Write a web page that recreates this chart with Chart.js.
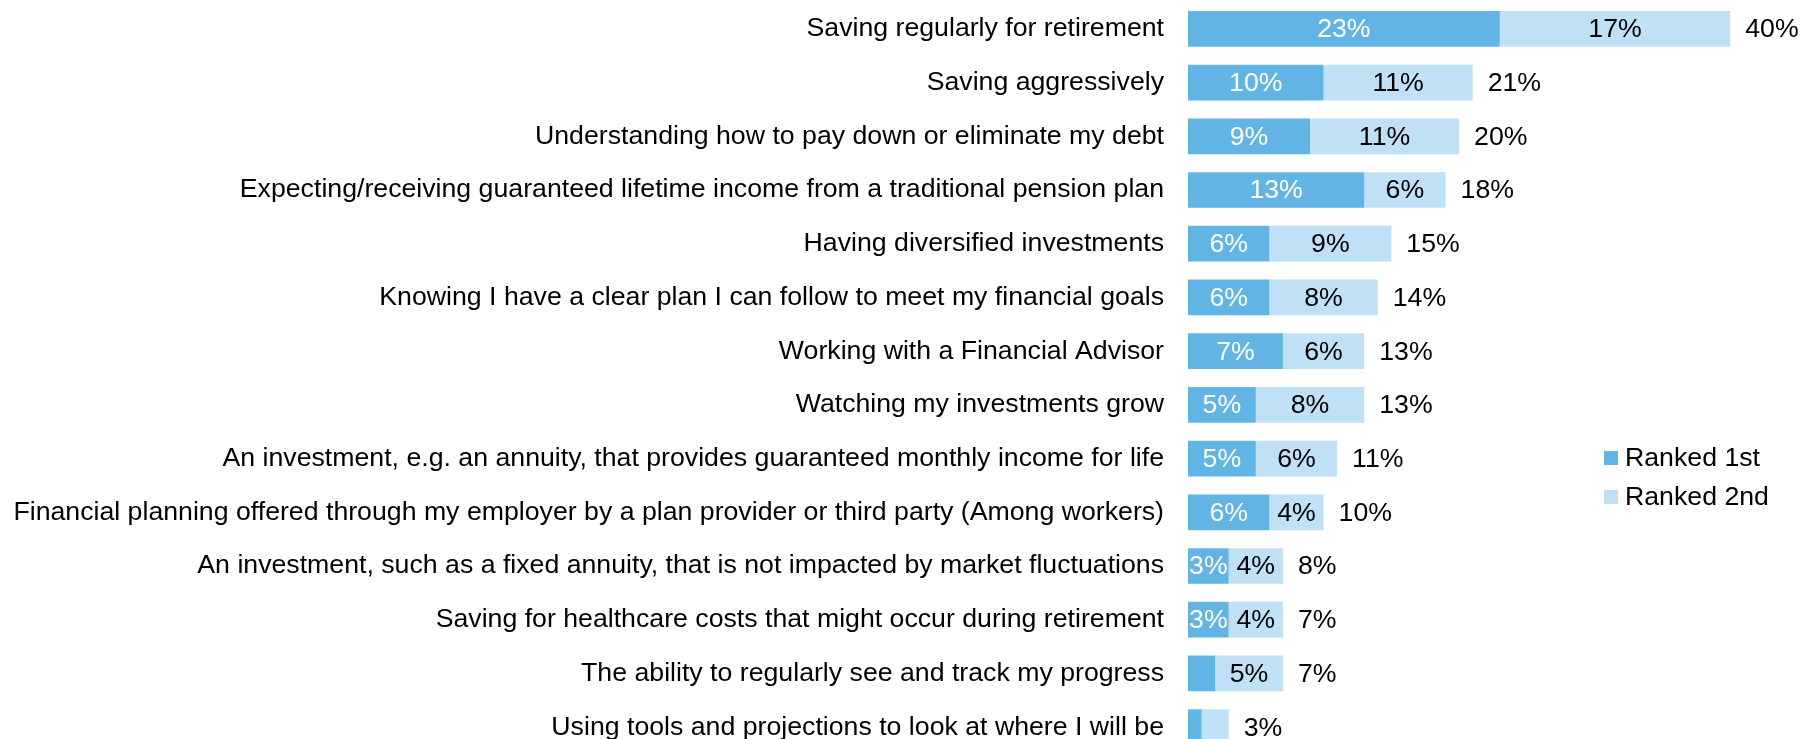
<!DOCTYPE html>
<html>
<head>
<meta charset="utf-8">
<script src="https://cdn.jsdelivr.net/npm/chart.js@4.4.1/dist/chart.umd.min.js"></script>
<style>
html, body { margin: 0; padding: 0; overflow: hidden; background: #ffffff; }
canvas { display: block; }
</style>
</head>
<body>
<canvas id="c" width="1801" height="754" style="width:1801px;height:754px"></canvas>
<script>
const categories = [
  "Saving regularly for retirement",
  "Saving aggressively",
  "Understanding how to pay down or eliminate my debt",
  "Expecting/receiving guaranteed lifetime income from a traditional pension plan",
  "Having diversified investments",
  "Knowing I have a clear plan I can follow to meet my financial goals",
  "Working with a Financial Advisor",
  "Watching my investments grow",
  "An investment, e.g. an annuity, that provides guaranteed monthly income for life",
  "Financial planning offered through my employer by a plan provider or third party (Among workers)",
  "An investment, such as a fixed annuity, that is not impacted by market fluctuations",
  "Saving for healthcare costs that might occur during retirement",
  "The ability to regularly see and track my progress",
  "Using tools and projections to look at where I will be"
];
const ranked1 = [23, 10, 9, 13, 6, 6, 7, 5, 5, 6, 3, 3, 2, 1];
const ranked2 = [17, 11, 11, 6, 9, 8, 6, 8, 6, 4, 4, 4, 5, 2];
const totals  = [40, 21, 20, 18, 15, 14, 13, 13, 11, 10, 8, 7, 7, 3];
const seriesNames = ["Ranked 1st", "Ranked 2nd"];

const COLORS = ["#62B4E5", "#C0E0F5"];
const LABEL_COLORS = ["#ffffff", "#000000"];
const FONT_FAMILY = '"Liberation Sans", Arial, Helvetica, sans-serif';
const FONT_SIZE = 26.7;

const labelPlugin = {
  id: "barLabels",
  afterDatasetsDraw(chart) {
    const ctx = chart.ctx;
    ctx.save();
    ctx.font = FONT_SIZE + "px " + FONT_FAMILY;
    ctx.textBaseline = "middle";
    chart.data.datasets.forEach((ds, di) => {
      const meta = chart.getDatasetMeta(di);
      meta.data.forEach((el, i) => {
        const v = ds.data[i];
        if (v < 3) return;
        ctx.fillStyle = LABEL_COLORS[di];
        ctx.textAlign = "center";
        ctx.fillText(v + "%", (el.x + el.base) / 2, el.y + 1);
      });
    });
    const xs = chart.scales.x, ys = chart.scales.y;
    totals.forEach((t, i) => {
      const end = xs.getPixelForValue(ranked1[i] + ranked2[i]);
      ctx.fillStyle = "#000000";
      ctx.textAlign = "left";
      ctx.fillText(t + "%", end + 15, ys.getPixelForValue(i) + 1);
    });
    // legend
    const lx = 1604, ly = [458, 497];
    chart.data.datasets.forEach((ds, di) => {
      ctx.fillStyle = ds.backgroundColor;
      ctx.fillRect(lx, ly[di] - 7, 14, 14);
      ctx.fillStyle = "#000000";
      ctx.textAlign = "left";
      ctx.fillText(ds.label, lx + 21, ly[di] + 1);
    });
    ctx.restore();
  }
};

new Chart(document.getElementById("c"), {
  type: "bar",
  data: {
    labels: categories,
    datasets: [
      { label: seriesNames[0], data: ranked1, backgroundColor: COLORS[0], borderWidth: 0,
        categoryPercentage: 1, barPercentage: 0.665 },
      { label: seriesNames[1], data: ranked2, backgroundColor: COLORS[1], borderWidth: 0,
        categoryPercentage: 1, barPercentage: 0.665 }
    ]
  },
  options: {
    indexAxis: "y",
    responsive: false,
    animation: false,
    devicePixelRatio: 1,
    layout: { padding: { top: 2, right: 3, bottom: 0, left: 0 } },
    plugins: {
      legend: { display: false },
      tooltip: { enabled: false }
    },
    scales: {
      x: { stacked: true, display: false, min: 0, max: 45 },
      y: {
        stacked: true,
        grid: { display: false, drawTicks: false },
        border: { display: false },
        ticks: {
          autoSkip: false,
          color: "#000000",
          padding: 24,
          font: { family: FONT_FAMILY, size: FONT_SIZE }
        },
        afterFit(scale) {
          scale.width = 1188;
          scale.paddingTop = 0;
          scale.paddingBottom = 0;
        }
      }
    }
  },
  plugins: [labelPlugin]
});
</script>
</body>
</html>
